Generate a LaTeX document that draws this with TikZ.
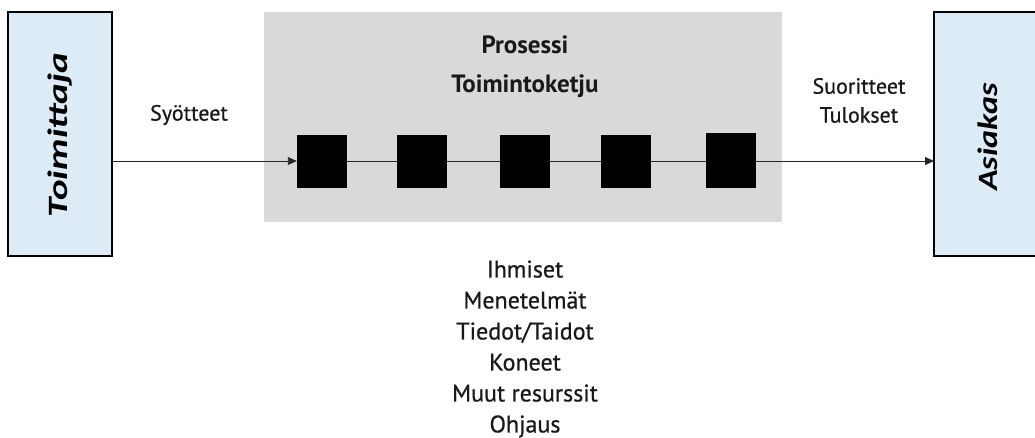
\documentclass[tikz,border=0pt]{standalone}
\usepackage{fontspec}
\setmainfont{PT Sans}
\newfontfamily\medfont[FakeBold=0.7]{PT Sans}
\newfontfamily\boxfont{Carlito}
\usetikzlibrary{arrows.meta}
\definecolor{partyblue}{HTML}{DDEBF7}
\definecolor{procgray}{HTML}{D9D9D9}
\tikzset{
  party/.style={draw=black, line width=1.6pt, fill=partyblue},
  stage/.style={fill=black, draw=black, minimum width=49pt, minimum height=52pt, inner sep=0pt},
  flow/.style={-{Triangle[length=9pt,width=8pt]}, line width=0.9pt, draw=black!85},
  link/.style={line width=0.9pt, draw=black!85},
  lbl/.style={font=\medfont\fontsize{22}{24}\selectfont, text=black!90, inner sep=0pt},
  plbl/.style={font=\fontsize{25}{28}\selectfont\bfseries, text=black!90, inner sep=0pt},
  vlbl/.style={font=\boxfont\fontsize{28}{30}\selectfont\bfseries\itshape, rotate=90, inner sep=0pt}
}
\begin{document}
\begin{tikzpicture}[x=1pt,y=-1pt]
\useasboundingbox (0,0) rectangle (1035,437);
% process area
\fill[procgray] (264,12) rectangle (782,222);
% supplier and customer
\draw[party] (8,12) rectangle (112,256);
\draw[party] (934,12) rectangle (1040,256);
\node[vlbl] (sup) at (60,135) {\scalebox{1.40}[1]{Toimittaja}};
\node[vlbl] (cus) at (988,137) {\scalebox{1.22}[1]{Asiakas}};
\coordinate (supR) at (112,161);
\coordinate (cusL) at (934,161);
% process chain
\node[stage] (s1) at (321.5,161) {};
\node[stage] (s2) at (421.5,161) {};
\node[stage] (s3) at (524.5,161) {};
\node[stage] (s4) at (626,161) {};
\node[stage, minimum height=54pt] (s5) at (730.5,160) {};
\draw[flow] (supR) -- (s1.west);
\draw[link] (s1) -- (s2);
\draw[link] (s2) -- (s3);
\draw[link] (s3) -- (s4);
\draw[link] (s4) -- (s5.west |- s4.east);
\draw[flow] (s5.east |- cusL) -- (cusL);
% labels
\node[plbl] (p1) at (525,45) {Prosessi};
\node[plbl] (p2) at (525,86) {Toimintoketju};
\node[lbl] (in) at (189,115) {Syötteet};
\node[lbl] (out1) at (859,86) {Suoritteet};
\node[lbl] (out2) at (859,115) {Tulokset};
\node[lbl, align=center, font=\medfont\fontsize{24}{31}\selectfont] (res) at (525,349) {Ihmiset\\Menetelmät\\Tiedot/Taidot\\Koneet\\Muut resurssit\\Ohjaus};
\end{tikzpicture}
\end{document}
